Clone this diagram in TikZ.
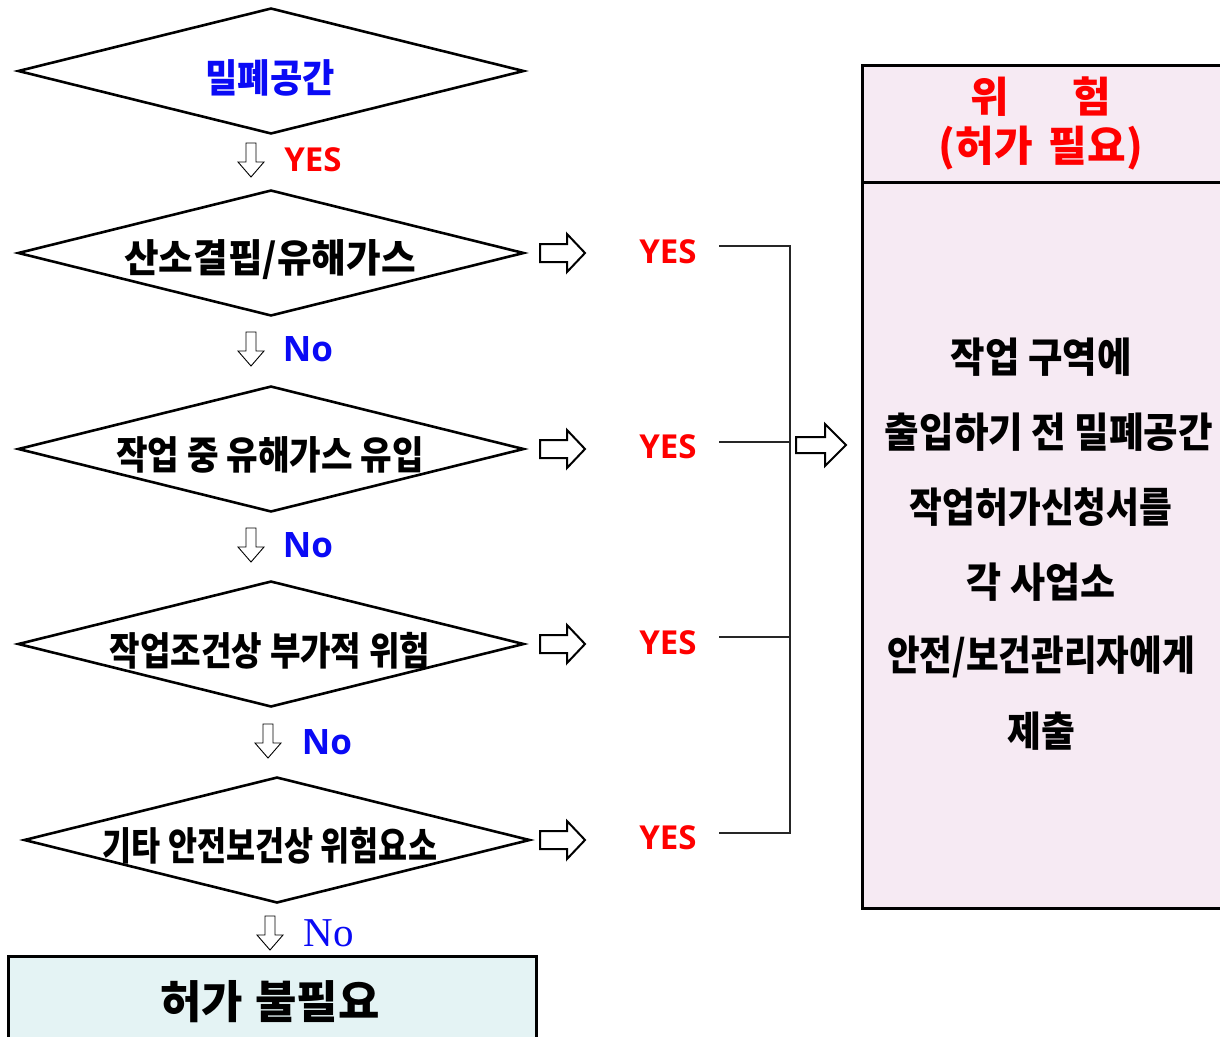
\documentclass[tikz,border=0pt]{standalone}
\usepackage{fontspec}
\usepackage{graphicx}
\usetikzlibrary{shapes.geometric}
\newfontfamily\kr{Noto Sans CJK KR}
\newfontfamily\lat{Open Sans}
\newfontfamily\tms{Liberation Serif}
\newcommand\sx[2]{\scalebox{#1}[1]{#2}}
\definecolor{myblue}{RGB}{10,10,245}
\definecolor{myred}{RGB}{255,0,0}
\definecolor{pinkbg}{RGB}{246,234,243}
\definecolor{cyanbg}{RGB}{228,243,244}
\begin{document}
\begin{tikzpicture}[x=1pt,y=-1pt,
  dia/.style={draw, shape=diamond, line width=2.6pt, minimum width=506pt, minimum height=126pt, inner sep=0pt, fill=white},
  ktxt/.style={inner sep=0pt, font=\kr\bfseries\fontsize{39}{43}\selectfont},
  rtxt/.style={inner sep=0pt, font=\kr\bfseries\fontsize{41}{45}\selectfont},
  yes/.style={inner sep=0pt, text=myred, font=\lat\bfseries\fontsize{33}{36}\selectfont},
  no/.style={inner sep=0pt, text=myblue, font=\lat\bfseries\fontsize{35}{38}\selectfont},
  conn/.style={line width=1.4pt, draw=black!85},
  darr/.pic={\draw[line width=0.9pt, fill=white] (-5,0) -- (5,0) -- (5,19) -- (13,19) -- (0,34) -- (-13,19) -- (-5,19) -- cycle;},
  rarr/.pic={\draw[line width=2pt, fill=white, line join=miter] (0,-9) -- (27,-9) -- (27,-19) -- (45,0) -- (27,19) -- (27,9) -- (0,9) -- cycle;},
  barr/.pic={\draw[line width=2pt, fill=white, line join=miter] (0,-8) -- (29,-8) -- (29,-21) -- (50,0) -- (29,21) -- (29,8) -- (0,8) -- cycle;}
]
\useasboundingbox (0,0) rectangle (1220,1036);
\clip (0,0) rectangle (1220,1036);
\fill[white] (0,0) rectangle (1220,1036);

% diamonds
\node[dia] (d1) at (271,71) {};
\node[dia] (d2) at (271,253) {};
\node[dia] (d3) at (271,449) {};
\node[dia] (d4) at (271,644) {};
\node[dia] (d5) at (277,840) {};

\node[ktxt, text=myblue] (t1) at (270,78) {\sx{0.90}{밀폐공간}};
\node[ktxt] (t2) at (270,260) {\sx{0.965}{산소결핍/유해가스}};
\node[ktxt] (t3) at (270,455) {\sx{0.88}{작업 중 유해가스 유입}};
\node[ktxt] (t4) at (270,651) {\sx{0.85}{작업조건상 부가적 위험}};
\node[ktxt] (t5) at (270,846) {\sx{0.81}{기타 안전보건상 위험요소}};

% down arrows and labels
\pic (a1) at (251,143) {darr};
\node[yes] (y0) at (313,160) {YES};
\pic (a2) at (251,332) {darr};
\node[no] (n1) at (308,349) {No};
\pic (a3) at (251,528) {darr};
\node[no] (n2) at (308,545) {No};
\pic (a4) at (268,724) {darr};
\node[no] (n3) at (327,742) {No};
\pic (a5) at (270,916) {darr};
\node[inner sep=0pt, text=myblue, font=\tms\fontsize{41}{44}\selectfont] (n4) at (329,933) {No};

% right arrows and YES
\pic (r1) at (540,253) {rarr};
\pic (r2) at (540,449) {rarr};
\pic (r3) at (540,644) {rarr};
\pic (r4) at (540,840) {rarr};
\node[yes] (y1) at (668,252) {YES};
\node[yes] (y2) at (668,447) {YES};
\node[yes] (y3) at (668,643) {YES};
\node[yes] (y4) at (668,838) {YES};

% connectors
\coordinate (s1) at (719,246);
\coordinate (s2) at (719,442);
\coordinate (s3) at (719,637);
\coordinate (s4) at (719,833);
\coordinate (j1) at (790,246);
\coordinate (j2) at (790,442);
\coordinate (j3) at (790,637);
\coordinate (j4) at (790,833);
\draw[conn] (s1) -- (j1) -- (j4) -- (s4);
\draw[conn] (s2) -- (j2);
\draw[conn] (s3) -- (j3);
\pic (big) at (796,445) {barr};

% right box
\node[draw, line width=3pt, fill=pinkbg, anchor=north west, minimum width=400pt, minimum height=843pt, inner sep=0pt] (risk) at (861,64) {};
\coordinate (hl) at (861,182);
\coordinate (hr) at (1260,182);
\draw[line width=3pt] (hl) -- (hr);
\node[inner sep=0pt, text=myred, font=\kr\bfseries\fontsize{42}{46}\selectfont] (h1) at (1041,97) {위\hspace{63pt}험};
\node[inner sep=0pt, text=myred, font=\kr\bfseries\fontsize{42}{46}\selectfont] (h2) at (1041,148) {(허가\hspace{16pt}필요)};

\node[rtxt] (b1) at (1041,357) {\sx{0.914}{작업 구역에}};
\node[rtxt] (b2) at (1049,432) {\sx{0.916}{출입하기 전 밀폐공간}};
\node[rtxt] (b3) at (1041,507) {\sx{0.869}{작업허가신청서를}};
\node[rtxt] (b4) at (1041,582) {\sx{0.93}{각 사업소}};
\node[rtxt] (b5) at (1041,657) {\sx{0.866}{안전/보건관리자에게}};
\node[rtxt] (b6) at (1041,731) {\sx{0.897}{제출}};

% bottom box
\node[draw, line width=2.6pt, fill=cyanbg, anchor=north west, minimum width=528pt, minimum height=120pt, inner sep=0pt] (nop) at (7,955) {};
\node[inner sep=0pt, font=\kr\bfseries\fontsize{45}{49}\selectfont] (nopt) at (270,1002) {허가\hspace{12pt}불필요};
\end{tikzpicture}
\end{document}
